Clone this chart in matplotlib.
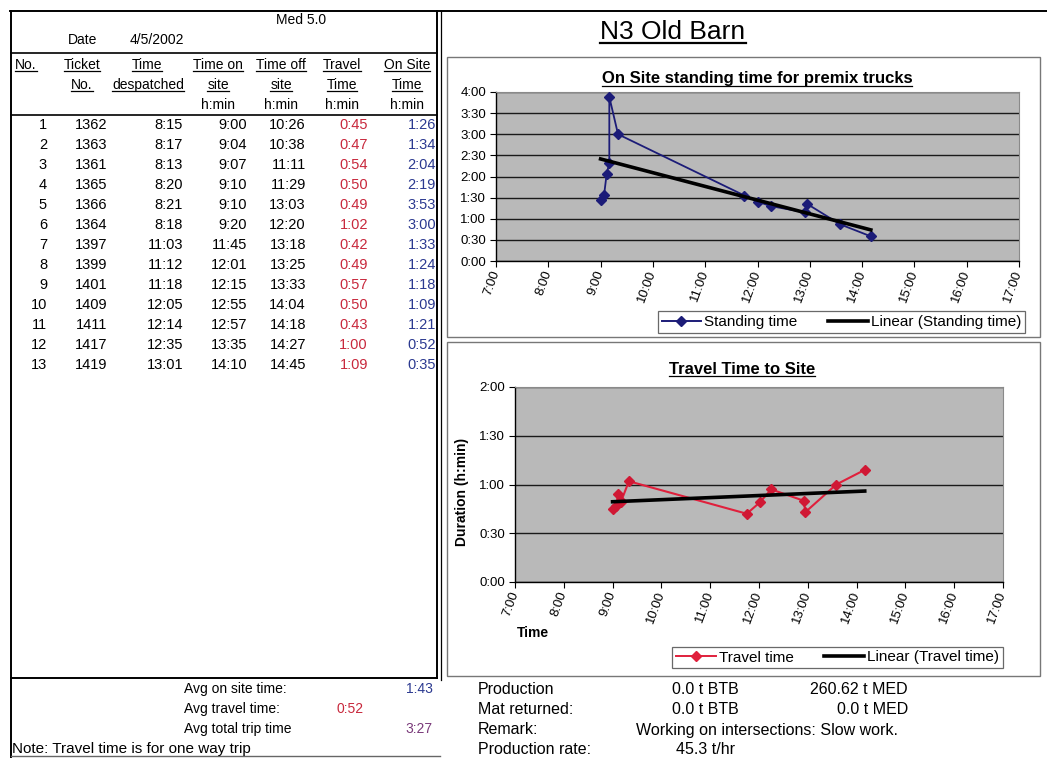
import numpy as np
import matplotlib
matplotlib.use("Agg")
import matplotlib.pyplot as plt
from matplotlib.patches import Rectangle
from matplotlib.lines import Line2D

# ---------------- data ----------------
ticket_no = [1362, 1363, 1361, 1365, 1366, 1364, 1397, 1399, 1401, 1409, 1411, 1417, 1419]
time_despatched = ["8:15", "8:17", "8:13", "8:20", "8:21", "8:18", "11:03", "11:12", "11:18", "12:05", "12:14", "12:35", "13:01"]
time_on_site = ["9:00", "9:04", "9:07", "9:10", "9:10", "9:20", "11:45", "12:01", "12:15", "12:55", "12:57", "13:35", "14:10"]
time_off_site = ["10:26", "10:38", "11:11", "11:29", "13:03", "12:20", "13:18", "13:25", "13:33", "14:04", "14:18", "14:27", "14:45"]
travel_time = ["0:45", "0:47", "0:54", "0:50", "0:49", "1:02", "0:42", "0:49", "0:57", "0:50", "0:43", "1:00", "1:09"]
on_site_time = ["1:26", "1:34", "2:04", "2:19", "3:53", "3:00", "1:33", "1:24", "1:18", "1:09", "1:21", "0:52", "0:35"]

x_tick_labels = ["7:00", "8:00", "9:00", "10:00", "11:00", "12:00", "13:00", "14:00", "15:00", "16:00", "17:00"]
y1_tick_labels = ["0:00", "0:30", "1:00", "1:30", "2:00", "2:30", "3:00", "3:30", "4:00"]
y2_tick_labels = ["0:00", "0:30", "1:00", "1:30", "2:00"]


def hrs(s):
    h, m = s.split(":")
    return int(h) + int(m) / 60.0


x_on = np.array([hrs(s) for s in time_on_site])
y_stand = np.array([hrs(s) for s in on_site_time])
y_travel = np.array([hrs(s) for s in travel_time])

# ---------------- figure ----------------
W, H = 1047, 758
plt.rcParams['font.family'] = ['Liberation Sans Narrow', 'Liberation Sans', 'DejaVu Sans']
fig = plt.figure(figsize=(W / 100, H / 100), dpi=100)
fig.patch.set_facecolor("white")

ov = fig.add_axes([0, 0, 1, 1])
ov.set_xlim(0, W)
ov.set_ylim(H, 0)
ov.axis("off")

RED = "#c8283c"
BLUE = "#2b3990"
PURPLE = "#7a3a7a"
FS = 10

underline_list = []


def T(x, y, s, ha="left", color="black", size=FS, weight="normal", ul=False, va="center", **kw):
    t = ov.text(x, y, s, ha=ha, va=va, color=color, fontsize=size, fontweight=weight, **kw)
    if ul:
        underline_list.append(t)
    return t


# borders
lw_b = 1.4
ov.plot([10, W], [11, 11], color="black", lw=lw_b)
ov.plot([11, 11], [11, H], color="black", lw=lw_b)
ov.plot([437, 437], [11, 678], color="black", lw=lw_b)
ov.plot([11, 437], [678, 678], color="black", lw=lw_b)
ov.plot([11, 437], [53, 53], color="black", lw=1.2)
ov.plot([11, 437], [115, 115], color="black", lw=1.2)
ov.plot([11, 440], [756, 756], color="#666666", lw=1.0)
ov.plot([441, 441], [11, 680], color="black", lw=0.9)

# header
T(276, 20, "Med 5.0")
T(68, 40, "Date")
T(130, 40, "4/5/2002")

T(15, 65, "No.", ul=True)
T(82, 65, "Ticket", ha="center", ul=True)
T(147, 65, "Time", ha="center", ul=True)
T(218, 65, "Time on", ha="center", ul=True)
T(281, 65, "Time off", ha="center", ul=True)
T(342, 65, "Travel", ha="center", ul=True)
T(407, 65, "On Site", ha="center", ul=True)
T(82, 85, "No.", ha="center", ul=True)
T(148, 85, "despatched", ha="center", ul=True)
T(218, 85, "site", ha="center", ul=True)
T(281, 85, "site", ha="center", ul=True)
T(342, 85, "Time", ha="center", ul=True)
T(407, 85, "Time", ha="center", ul=True)
for xc in (218, 281, 342, 407):
    T(xc, 105, "h:min", ha="center")

# rows
RS = 10.5
for i in range(len(ticket_no)):
    y = 125 + 20 * i
    T(47, y, str(i + 1), ha="right", size=RS)
    T(107, y, str(ticket_no[i]), ha="right", size=RS)
    T(183, y, time_despatched[i], ha="right", size=RS)
    T(247, y, time_on_site[i], ha="right", size=RS)
    T(306, y, time_off_site[i], ha="right", size=RS)
    T(368, y, travel_time[i], ha="right", color=RED, size=RS)
    T(436, y, on_site_time[i], ha="right", color=BLUE, size=RS)

# bottom left
T(184, 689, "Avg on site time:")
T(433, 689, "1:43", ha="right", color=BLUE)
T(184, 709, "Avg travel time:")
T(364, 709, "0:52", ha="right", color=RED)
T(184, 729, "Avg total trip time")
T(433, 729, "3:27", ha="right", color=PURPLE)
T(12, 749, "Note: Travel time is for one way trip", size=11)

# bottom right
bs = 11.5
T(478, 689, "Production", size=bs)
T(672, 689, "0.0 t BTB", size=bs)
T(908, 689, "260.62 t MED", ha="right", size=bs)
T(478, 709, "Mat returned:", size=bs)
T(672, 709, "0.0 t BTB", size=bs)
T(908, 709, "0.0 t MED", ha="right", size=bs)
T(478, 730, "Remark:", size=bs)
T(636, 730, "Working on intersections: Slow work.", size=bs)
T(478, 750, "Production rate:", size=bs)
T(676, 750, "45.3 t/hr", size=bs)

# main title
T(673, 32, "N3 Old Barn", ha="center", size=19, ul=True)

# chart frames
ov.add_patch(Rectangle((447, 57), 1040 - 447, 337 - 57, fill=False, edgecolor="#777777", lw=1.0))
ov.add_patch(Rectangle((447, 342), 1040 - 447, 676 - 342, fill=False, edgecolor="#777777", lw=1.0))

# chart titles
T(757, 79, "On Site standing time for premix trucks", ha="center", size=12, weight="bold", ul=True)
T(742, 369, "Travel Time to Site", ha="center", size=12, weight="bold", ul=True)
T(462, 492, "Duration (h:min)", ha="center", size=10, weight="bold", rotation=90)
T(533, 633, "Time", ha="center", size=10, weight="bold")

GRAY = "#b9b9b9"


def px_axes(x0, x1, y0, y1):
    return fig.add_axes([x0 / W, 1 - y1 / H, (x1 - x0) / W, (y1 - y0) / H])


def style_axes(ax, ymax, yticks_lbl):
    ax.set_facecolor(GRAY)
    ax.set_xlim(7, 17)
    ax.set_ylim(0, ymax)
    ax.set_xticks([hrs(s) for s in x_tick_labels])
    ax.set_xticklabels(x_tick_labels)
    ax.set_yticks([hrs(s) for s in yticks_lbl])
    ax.set_yticklabels(yticks_lbl)
    ax.grid(axis="y", color="#1a1a1a", lw=1.0)
    ax.set_axisbelow(True)
    for side in ("left", "bottom"):
        ax.spines[side].set_color("black")
        ax.spines[side].set_linewidth(1.0)
    for side in ("top", "right"):
        ax.spines[side].set_color("#8a8a8a")
        ax.spines[side].set_linewidth(0.8)
    ax.tick_params(axis="both", direction="out", length=4, width=0.8, labelsize=9.5, pad=3)
    for lab in ax.get_xticklabels():
        lab.set_rotation(70)
        lab.set_ha("right")
        lab.set_va("center")
        lab.set_rotation_mode("anchor")


# chart 1
ax1 = px_axes(496, 1019, 92, 261)
style_axes(ax1, 4.0, y1_tick_labels)
ax1.plot(x_on, y_stand, color="#1c1c78", lw=1.3, marker="D", ms=5, mfc="#1c1c78", mec="#1c1c78", zorder=3)
c1 = np.polyfit(x_on, y_stand, 1)
xs = np.array([x_on.min(), x_on.max()])
ax1.plot(xs, np.polyval(c1, xs), color="black", lw=2.6, zorder=4)

# chart 2
ax2 = px_axes(515, 1003, 387, 582)
style_axes(ax2, 2.0, y2_tick_labels)
ax2.plot(x_on, y_travel, color="#e0203c", lw=1.5, marker="D", ms=5, mfc="#d01834", mec="#d01834", zorder=3)
c2 = np.polyfit(x_on, y_travel, 1)
ax2.plot(xs, np.polyval(c2, xs), color="black", lw=2.6, zorder=4)


def legend_at(x0, y0, x1, y1, color, name, trend):
    h = [Line2D([], [], color=color, lw=1.4, marker="D", ms=5, mfc=color, mec=color),
         Line2D([], [], color="black", lw=2.6)]
    leg = fig.legend(h, [name, trend], loc="center",
                     bbox_to_anchor=(((x0 + x1) / 2) / W, 1 - ((y0 + y1) / 2) / H),
                     ncol=2, frameon=True, fancybox=False, fontsize=11, handlelength=2.6,
                     handletextpad=0.2, columnspacing=2.0, borderpad=0.25, edgecolor="#444444")
    leg.get_frame().set_linewidth(0.9)
    return leg


legend_at(660, 311, 1023, 333, "#1c1c78", "Standing time", "Linear (Standing time)")
legend_at(640, 645, 1035, 670, "#e0203c", "Travel time", "Linear (Travel time)")

# underlines
fig.canvas.draw()
r = fig.canvas.get_renderer()
inv = ov.transData.inverted()
for t in underline_list:
    bb = t.get_window_extent(renderer=r)
    (xa, ya), (xb, yb) = inv.transform([[bb.x0, bb.y0], [bb.x1, bb.y1]])
    ybase = max(ya, yb) - 1.0
    lw = 1.6 if t.get_fontsize() > 15 else 0.9
    ov.plot([xa, xb], [ybase, ybase], color=t.get_color(), lw=lw)

fig.savefig("out.png", dpi=100)
